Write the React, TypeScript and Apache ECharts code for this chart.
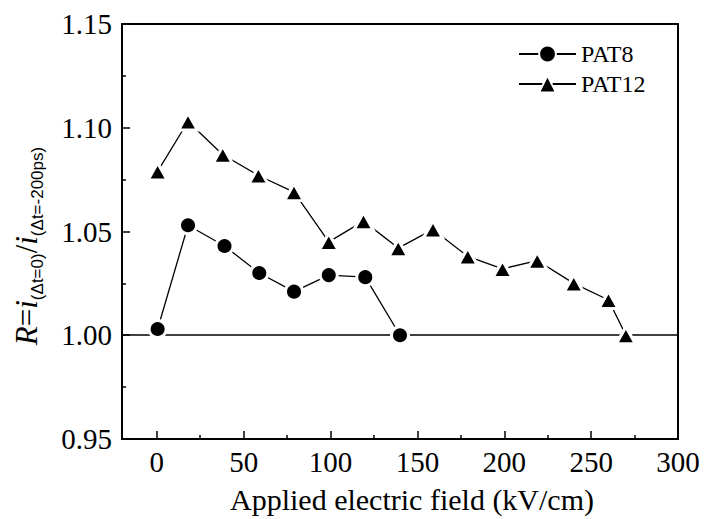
import React, { useEffect, useRef } from "react";
import * as echarts from "echarts";

const pat8X = [0.5, 18, 39, 59, 79, 99, 120, 140];
const pat8Y = [1.003, 1.053, 1.043, 1.030, 1.021, 1.029, 1.028, 1.000];
const pat12X = [0.5, 18, 38, 58.5, 79, 99, 119, 139, 159, 179, 199, 219, 240, 260, 270];
const pat12Y = [1.079, 1.103, 1.087, 1.077, 1.069, 1.045, 1.055, 1.042, 1.051, 1.038, 1.032, 1.036, 1.025, 1.017, 1.0];
const xMajor = [0, 50, 100, 150, 200, 250, 300];
const xMinor = [25, 75, 125, 175, 225, 275];
const seriesNames = ["PAT8", "PAT12"];

const SERIF = "Times New Roman, Liberation Serif, Tinos, DejaVu Serif, serif";
const SANS = "Arial, Liberation Sans, sans-serif";

export default function App() {
  const ref = useRef<HTMLDivElement>(null);
  useEffect(() => {
    if (!ref.current) return;
    const chart = echarts.init(ref.current, null, { renderer: "svg" });
    const blk = "#000";
    const zip = (xs: number[], ys: number[]) => xs.map((x, i) => [x, ys[i]]);
    chart.setOption({
      animation: false,
      backgroundColor: "#fff",
      textStyle: { fontFamily: SERIF },
      grid: { left: 122, right: 28, top: 24, bottom: 78, show: true, borderColor: blk, borderWidth: 2 },
      legend: {
        orient: "vertical",
        left: 518,
        top: 42,
        padding: 0,
        itemWidth: 57,
        itemHeight: 21,
        itemGap: 6,
        textStyle: { fontFamily: SERIF, fontSize: 24, color: blk },
        data: seriesNames,
      },
      xAxis: [
        {
          type: "value",
          min: -20,
          max: 300,
          position: "bottom",
          axisLine: { show: true, onZero: false, lineStyle: { color: blk, width: 2 } },
          axisTick: { show: true, inside: true, length: 8, customValues: xMajor, lineStyle: { color: blk, width: 1.5 } },
          axisLabel: { customValues: xMajor, fontFamily: SERIF, fontSize: 29, color: blk, margin: 8 },
          splitLine: { show: false },
          name: "Applied electric field (kV/cm)",
          nameLocation: "middle",
          nameGap: 45,
          nameTextStyle: { fontFamily: SERIF, fontSize: 30, color: blk, padding: [0, 0, 0, 24] },
        },
        {
          type: "value",
          min: -20,
          max: 300,
          position: "bottom",
          axisLine: { show: false, onZero: false },
          axisTick: { show: true, inside: true, length: 4, customValues: xMinor, lineStyle: { color: blk, width: 1.5 } },
          axisLabel: { show: false },
          splitLine: { show: false },
        },
      ],
      yAxis: {
        type: "value",
        min: 0.95,
        max: 1.15,
        interval: 0.05,
        axisLine: { show: true, onZero: false, lineStyle: { color: blk, width: 2 } },
        axisTick: { show: true, inside: true, length: 8, lineStyle: { color: blk, width: 1.5 } },
        minorTick: { show: true, splitNumber: 2, length: 4, lineStyle: { color: blk, width: 1.5 } },
        axisLabel: { fontFamily: SERIF, fontSize: 29, color: blk, margin: 10, formatter: (v: number) => v.toFixed(2) },
        splitLine: { show: false },
      },
      graphic: [
        {
          type: "text",
          x: 26,
          y: 246,
          rotation: Math.PI / 2,
          style: {
            text: "{it|R}{n|=}{it|i}{sub|(Δt=0)}{n|/}{it|i}{sub|(Δt=-200ps)}",
            align: "center",
            verticalAlign: "middle",
            fill: blk,
            rich: {
              it: { fontFamily: SERIF, fontStyle: "italic", fontSize: 31, lineHeight: 40, fill: blk },
              n: { fontFamily: SERIF, fontSize: 31, lineHeight: 40, fill: blk },
              sub: { fontFamily: SANS, fontSize: 17, lineHeight: 20, verticalAlign: "bottom", fill: blk },
            },
          },
        },
      ],
      series: [
        {
          name: seriesNames[0],
          type: "line",
          xAxisIndex: 0,
          data: zip(pat8X, pat8Y),
          symbol: "circle",
          symbolSize: 17,
          lineStyle: { color: blk, width: 1.3 },
          itemStyle: { color: blk, borderColor: "#fff", borderWidth: 3 },
          z: 3,
          markLine: {
            silent: true,
            z: 1,
            symbol: ["none", "none"],
            label: { show: false },
            lineStyle: { color: blk, width: 1.5, type: "solid" },
            data: [{ yAxis: 1.0 }],
          },
        },
        {
          name: seriesNames[1],
          type: "line",
          xAxisIndex: 0,
          data: zip(pat12X, pat12Y),
          symbol: "triangle",
          symbolSize: [19, 17],
          lineStyle: { color: blk, width: 1.3 },
          itemStyle: { color: blk, borderColor: "#fff", borderWidth: 3 },
          z: 3,
        },
      ],
    });
    return () => chart.dispose();
  }, []);
  return <div ref={ref} style={{ position: "fixed", left: 0, top: 0, width: 706, height: 519 }} />;
}
